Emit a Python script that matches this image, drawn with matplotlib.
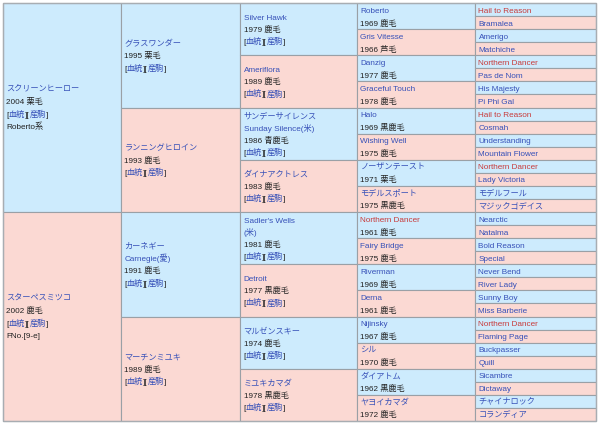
import matplotlib
matplotlib.use('Agg')
import matplotlib.pyplot as plt
from matplotlib.patches import Rectangle

FONT = ['Liberation Sans', 'Noto Sans CJK JP', 'DejaVu Sans']
FS = 5.9

# ---- data ----
gen1_names = ['スクリーンヒーロー', 'スターペスミツコ']
gen1_info = ['2004 栗毛', '2002 鹿毛']
gen1_notes = ['Roberto系', 'FNo.[9-e]']

gen2_names = ['グラスワンダー', 'ランニングヒロイン', 'カーネギー\nCarnegie(愛)', 'マーチンミユキ']
gen2_info = ['1995 栗毛', '1993 鹿毛', '1991 鹿毛', '1989 鹿毛']

gen3_names = ['Silver Hawk', 'Ameriflora', 'サンデーサイレンス\nSunday Silence(米)', 'ダイナアクトレス',
              "Sadler's Wells\n(米)", 'Detroit', 'マルゼンスキー', 'ミユキカマダ']
gen3_info = ['1979 鹿毛', '1989 鹿毛', '1986 青鹿毛', '1983 鹿毛',
             '1981 鹿毛', '1977 黒鹿毛', '1974 鹿毛', '1978 黒鹿毛']

gen4_names = ['Roberto', 'Gris Vitesse', 'Danzig', 'Graceful Touch',
              'Halo', 'Wishing Well', 'ノーザンテースト', 'モデルスポート',
              'Northern Dancer', 'Fairy Bridge', 'Riverman', 'Derna',
              'Nijinsky', 'シル', 'ダイアトム', 'ヤヨイカマダ']
gen4_info = ['1969 鹿毛', '1966 芦毛', '1977 鹿毛', '1978 鹿毛',
             '1969 黒鹿毛', '1975 鹿毛', '1971 栗毛', '1975 黒鹿毛',
             '1961 鹿毛', '1975 鹿毛', '1969 鹿毛', '1961 鹿毛',
             '1967 鹿毛', '1970 鹿毛', '1962 黒鹿毛', '1972 鹿毛']

gen5_names = ['Hail to Reason', 'Bramalea', 'Amerigo', 'Matchiche',
              'Northern Dancer', 'Pas de Nom', 'His Majesty', 'Pi Phi Gal',
              'Hail to Reason', 'Cosmah', 'Understanding', 'Mountain Flower',
              'Northern Dancer', 'Lady Victoria', 'モデルフール', 'マジックゴデイス',
              'Nearctic', 'Natalma', 'Bold Reason', 'Special',
              'Never Bend', 'River Lady', 'Sunny Boy', 'Miss Barberie',
              'Northern Dancer', 'Flaming Page', 'Buckpasser', 'Quill',
              'Sicambre', 'Dictaway', 'チャイナロック', 'コランディア']

highlight = ['Hail to Reason', 'Northern Dancer']
link_parts = ['[', '血統', '][', '産駒', ']']

# ---- style ----
BLUE_BG = '#cdebfd'
PINK_BG = '#fbd9d3'
LINK = '#3650b8'
RED = '#c83a3a'
BLACK = '#222222'
EDGE = '#9aa0a6'

col_edges = [3, 121, 240, 357, 475, 596]
top, bottom = 3, 421

fig = plt.figure(figsize=(6.0, 4.24), dpi=100)
ax = fig.add_axes([0, 0, 1, 1])
ax.set_xlim(0, 600)
ax.set_ylim(424, 0)
ax.axis('off')

chains = []


def link_line():
    cols = [BLACK, LINK, BLACK, LINK, BLACK]
    return list(zip(link_parts, cols))


def cell_lines(g, i):
    if g == 0:
        return ([[(gen1_names[i], LINK)], [(gen1_info[i], BLACK)], link_line(),
                 [(gen1_notes[i], BLACK)]], 12.5)
    if g == 1:
        ls = [[(s, LINK)] for s in gen2_names[i].split('\n')]
        return ls + [[(gen2_info[i], BLACK)], link_line()], 12.3
    if g == 2:
        ls = [[(s, LINK)] for s in gen3_names[i].split('\n')]
        return ls + [[(gen3_info[i], BLACK)], link_line()], 12.0
    if g == 3:
        nm = gen4_names[i]
        return [[(nm, RED if nm in highlight else LINK)], [(gen4_info[i], BLACK)]], 13.0
    nm = gen5_names[i]
    return [[(nm, RED if nm in highlight else LINK)]], 13.0


for g in range(5):
    n = 2 ** (g + 1)
    h = (bottom - top) / n
    x0, x1 = col_edges[g], col_edges[g + 1]
    for i in range(n):
        y0 = top + i * h
        ax.add_patch(Rectangle((x0, y0), x1 - x0, h,
                               facecolor=BLUE_BG if i % 2 == 0 else PINK_BG,
                               edgecolor=EDGE, linewidth=0.8))
        lines, lh = cell_lines(g, i)
        cy = y0 + h / 2
        nl = len(lines)
        for k, segs in enumerate(lines):
            yb = cy + (k - (nl - 1) / 2) * lh + 3.0
            tx = x0 + 3.5
            texts = []
            for s, c in segs:
                t = ax.text(tx, yb, s, color=c, fontsize=FS, family=FONT,
                            ha='left', va='baseline')
                texts.append(t)
            if len(texts) > 1:
                chains.append((tx, texts))

ax.add_patch(Rectangle((col_edges[0], top), col_edges[-1] - col_edges[0], bottom - top,
                       facecolor='none', edgecolor='#a8adb2', linewidth=1.0))

fig.canvas.draw()
r = fig.canvas.get_renderer()
for tx, texts in chains:
    x = tx
    for t in texts:
        t.set_x(x)
        w = t.get_window_extent(renderer=r).width
        x += w

fig.savefig('out.png', dpi=100)
